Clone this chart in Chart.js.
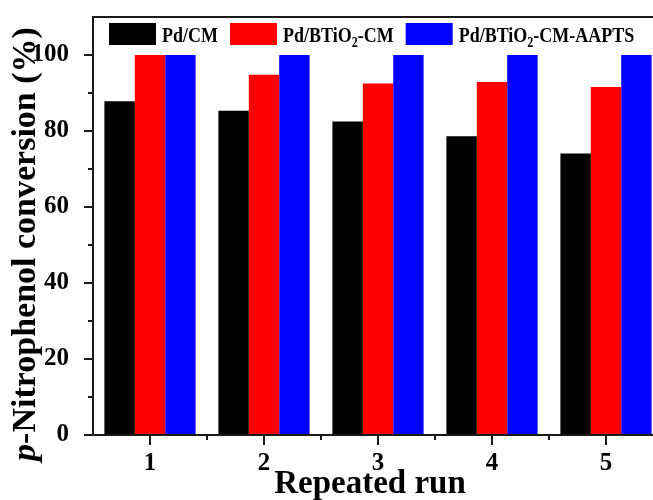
<!DOCTYPE html>
<html lang="en">
<head>
    <meta charset="UTF-8">
    <title>Repeated run conversion</title>
    <script src="https://cdn.jsdelivr.net/npm/chart.js"></script>
    <style>
        html, body {
            margin: 0;
            padding: 0;
            background: #fff;
            overflow: hidden;
        }
        .wrap {
            width: 653px;
            height: 500px;
            overflow: hidden;
        }
        canvas {
            display: block;
        }
    </style>
</head>
<body>
    <div class="wrap">
        <canvas id="runChart" width="670" height="500"></canvas>
    </div>

    <script>
        // Data
        const runs = ['1', '2', '3', '4', '5'];
        const pdCM = [87.8, 85.3, 82.5, 78.6, 74.1];
        const pdBTiO2CM = [100, 94.8, 92.5, 92.9, 91.6];
        const pdBTiO2CMAAPTS = [100, 100, 100, 100, 100];

        const seriesNames = ['Pd/CM', 'Pd/BTiO2-CM', 'Pd/BTiO2-CM-AAPTS'];
        const seriesColors = ['#000000', '#ff0000', '#0000ff'];

        const yMajor = [0, 20, 40, 60, 80, 100];
        const yMinor = [10, 30, 50, 70, 90];

        const serif = "'Liberation Serif', 'Times New Roman', serif";
        const axisColor = '#1a1a1a';

        // frame, tick marks, legend and axis titles
        const decorPlugin = {
            id: 'decor',
            afterDraw(chart) {
                const ctx = chart.ctx;
                const a = chart.chartArea;
                const xs = chart.scales.x;
                const ys = chart.scales.y;
                ctx.save();

                // ticks
                ctx.strokeStyle = axisColor;
                ctx.lineWidth = 2;
                ctx.beginPath();
                yMajor.forEach(v => {
                    const y = Math.round(ys.getPixelForValue(v));
                    ctx.moveTo(a.left - 9, y); ctx.lineTo(a.left, y);
                });
                yMinor.forEach(v => {
                    const y = Math.round(ys.getPixelForValue(v));
                    ctx.moveTo(a.left - 5, y); ctx.lineTo(a.left, y);
                });
                runs.forEach((r, i) => {
                    const x = Math.round(xs.getPixelForValue(i));
                    ctx.moveTo(x, a.bottom); ctx.lineTo(x, a.bottom + 10);
                    if (i < runs.length - 1) {
                        const xm = Math.round(xs.getPixelForValue(i + 0.5));
                        ctx.moveTo(xm, a.bottom); ctx.lineTo(xm, a.bottom + 5);
                    }
                });
                ctx.stroke();

                // frame
                ctx.strokeRect(a.left, a.top, a.right - a.left, a.bottom - a.top);

                // legend inside the plot (text slightly stretched vertically like the original)
                let lx = 109;
                const boxTop = 23, boxW = 47, boxH = 22, base = 42, sy = 1.15;
                ctx.textBaseline = 'alphabetic';
                ctx.textAlign = 'left';
                const stretched = (txt, x, y) => {
                    ctx.save();
                    ctx.translate(x, y);
                    ctx.scale(1, sy);
                    ctx.fillText(txt, 0, 0);
                    ctx.restore();
                };
                seriesNames.forEach((name, i) => {
                    ctx.fillStyle = seriesColors[i];
                    ctx.fillRect(lx, boxTop, boxW, boxH);
                    lx += boxW + 6;
                    ctx.fillStyle = '#000';
                    const parts = name.split('2');
                    parts.forEach((p, j) => {
                        ctx.font = 'bold 18px ' + serif;
                        stretched(p, lx, base);
                        lx += ctx.measureText(p).width;
                        if (j < parts.length - 1) {
                            ctx.font = 'bold 12px ' + serif;
                            stretched('2', lx, base + 5);
                            lx += ctx.measureText('2').width;
                        }
                    });
                    lx += 12;
                });

                // x title
                ctx.fillStyle = '#000';
                ctx.font = 'bold 33px ' + serif;
                ctx.textAlign = 'center';
                ctx.fillText('Repeated run', 370, 493);

                // y title with italic p
                ctx.save();
                ctx.translate(35, 244);
                ctx.rotate(-Math.PI / 2);
                ctx.textAlign = 'left';
                const fItal = 'italic bold 34px ' + serif;
                const fBold = 'bold 34px ' + serif;
                ctx.font = fItal;
                const w1 = ctx.measureText('p').width;
                ctx.font = fBold;
                const rest = '-Nitrophenol conversion (%)';
                const w2 = ctx.measureText(rest).width;
                let tx = -(w1 + w2) / 2;
                ctx.font = fItal;
                ctx.fillText('p', tx, 0);
                ctx.font = fBold;
                ctx.fillText(rest, tx + w1, 0);
                ctx.restore();

                ctx.restore();
            }
        };

        new Chart(document.getElementById('runChart'), {
            type: 'bar',
            data: {
                labels: runs,
                datasets: [
                    { label: seriesNames[0], data: pdCM, backgroundColor: seriesColors[0] },
                    { label: seriesNames[1], data: pdBTiO2CM, backgroundColor: seriesColors[1] },
                    { label: seriesNames[2], data: pdBTiO2CMAAPTS, backgroundColor: seriesColors[2] }
                ]
            },
            options: {
                responsive: false,
                animation: false,
                datasets: {
                    bar: { categoryPercentage: 0.8, barPercentage: 1.0, borderWidth: 0 }
                },
                layout: { padding: { top: 17, right: 7, left: 0, bottom: 0 } },
                plugins: {
                    legend: { display: false },
                    tooltip: { enabled: false }
                },
                scales: {
                    x: {
                        grid: { display: false },
                        border: { display: false },
                        ticks: {
                            color: '#000',
                            padding: 6,
                            font: { family: serif, size: 25, weight: 'bold' }
                        },
                        afterFit: s => {
                            s.height = 65;
                            s.paddingLeft = 0;
                            s.paddingRight = 0;
                        }
                    },
                    y: {
                        min: 0,
                        max: 110,
                        grid: { display: false },
                        border: { display: false },
                        ticks: {
                            stepSize: 20,
                            color: '#000',
                            padding: 16,
                            font: { family: serif, size: 25, weight: 'bold' }
                        },
                        afterBuildTicks: s => {
                            s.ticks = s.ticks.filter(t => yMajor.includes(t.value));
                        },
                        afterFit: s => {
                            s.width = 93;
                            s.paddingTop = 0;
                            s.paddingBottom = 0;
                        }
                    }
                }
            },
            plugins: [decorPlugin]
        });
    </script>
</body>
</html>
